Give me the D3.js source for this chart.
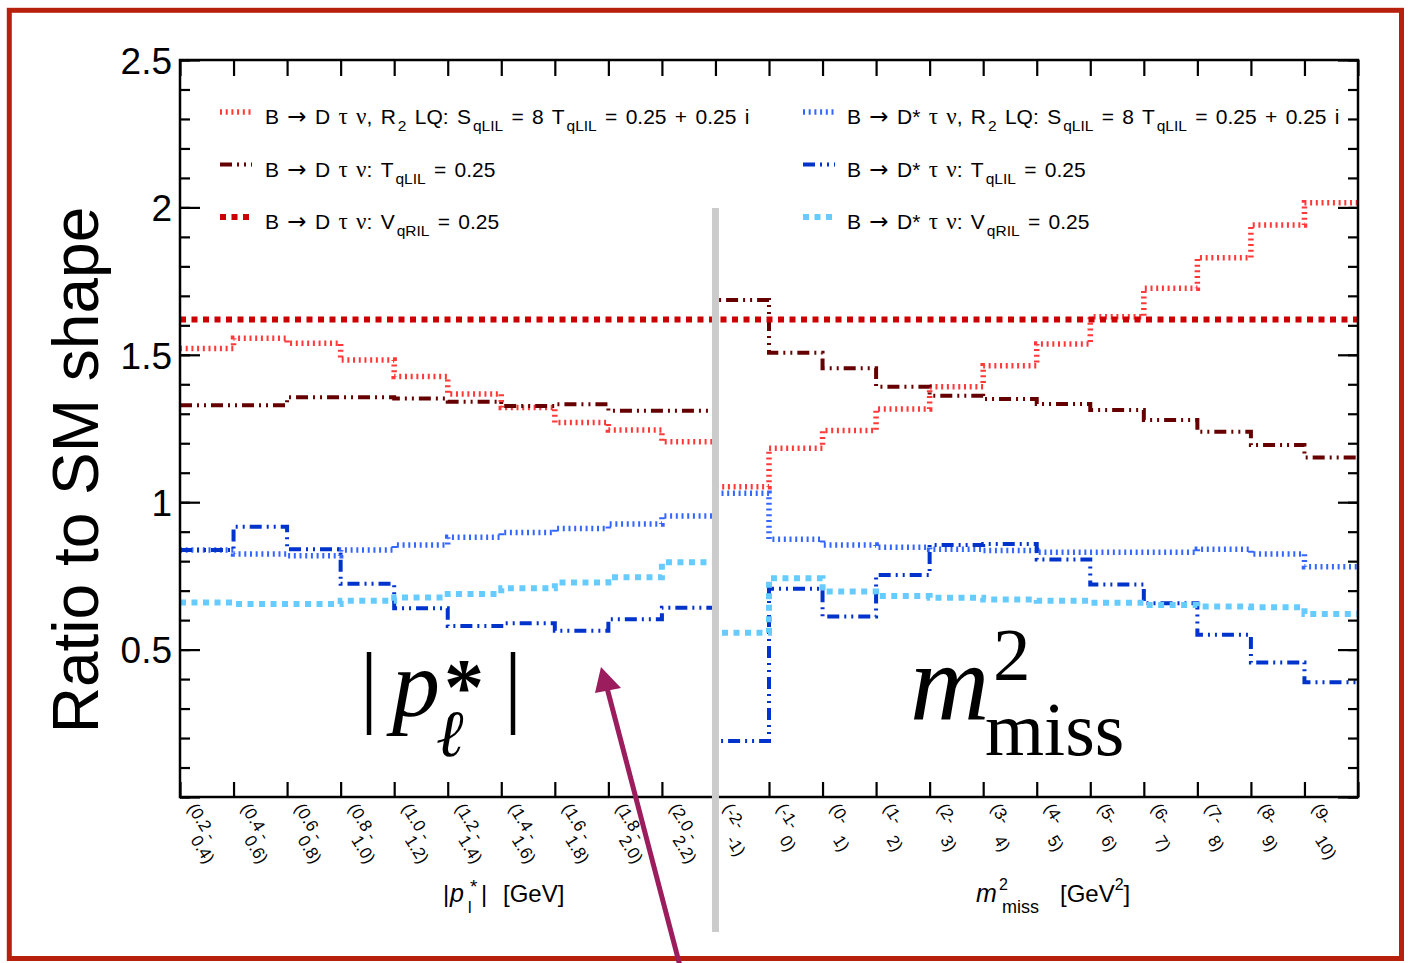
<!DOCTYPE html>
<html>
<head>
<meta charset="utf-8">
<script src="https://cdn.jsdelivr.net/npm/d3@7"></script>
<style>
  body { margin: 0; background: #fff; }
  svg { display: block; }
  text { font-family: "Liberation Sans", Arial, Helvetica, sans-serif; white-space: pre; }
  .serif { font-family: "Liberation Serif", "DejaVu Serif", "Times New Roman", serif; }
</style>
</head>
<body>
<svg id="chart" width="1408" height="963"></svg>
<script>
// Bin labels: |p*_l| bins then m^2_miss bins (two lines each)
const binLabelsTop = ["(0.2 -", "(0.4 -", "(0.6 -", "(0.8 -", "(1.0 -", "(1.2 -", "(1.4 -", "(1.6 -", "(1.8 -", "(2.0 -",
                      "(-2-", "(-1-", "(0-", "(1-", "(2-", "(3-", "(4-", "(5-", "(6-", "(7-", "(8-", "(9-"];
const binLabelsBottom = ["0.4)", "0.6)", "0.8)", "1.0)", "1.2)", "1.4)", "1.6)", "1.8)", "2.0)", "2.2)",
                         "-1)", "0)", "1)", "2)", "3)", "4)", "5)", "6)", "7)", "8)", "9)", "10)"];

// Ratio to SM shape, per bin
const dLQ  = [1.521, 1.556, 1.539, 1.482, 1.426, 1.367, 1.321, 1.270, 1.245, 1.205,
              1.052, 1.183, 1.243, 1.316, 1.392, 1.463, 1.537, 1.629, 1.726, 1.829, 1.940, 2.016];
const dT   = [1.329, 1.329, 1.356, 1.356, 1.352, 1.341, 1.326, 1.332, 1.310, 1.310,
              1.686, 1.507, 1.454, 1.392, 1.361, 1.350, 1.333, 1.313, 1.279, 1.239, 1.194, 1.152];
const dV   = [1.62, 1.62, 1.62, 1.62, 1.62, 1.62, 1.62, 1.62, 1.62, 1.62,
              1.62, 1.62, 1.62, 1.62, 1.62, 1.62, 1.62, 1.62, 1.62, 1.62, 1.62, 1.62];
const dsLQ = [0.838, 0.824, 0.818, 0.838, 0.855, 0.881, 0.897, 0.911, 0.926, 0.953,
              1.030, 0.874, 0.855, 0.847, 0.840, 0.836, 0.830, 0.830, 0.830, 0.840, 0.824, 0.781];
const dsT  = [0.838, 0.917, 0.840, 0.723, 0.640, 0.580, 0.589, 0.564, 0.603, 0.642,
              0.190, 0.706, 0.612, 0.753, 0.855, 0.858, 0.806, 0.721, 0.657, 0.550, 0.456, 0.389];
const dsV  = [0.660, 0.655, 0.655, 0.666, 0.677, 0.689, 0.708, 0.728, 0.745, 0.796,
              0.557, 0.742, 0.697, 0.682, 0.676, 0.670, 0.666, 0.659, 0.651, 0.646, 0.644, 0.621];

const legendLabels = [
  "B → D τ ν, R_{2} LQ: S_{qLIL} = 8 T_{qLIL} = 0.25 + 0.25 i",
  "B → D τ ν: T_{qLIL} = 0.25",
  "B → D τ ν: V_{qRIL} = 0.25",
  "B → D* τ ν, R_{2} LQ: S_{qLIL} = 8 T_{qLIL} = 0.25 + 0.25 i",
  "B → D* τ ν: T_{qLIL} = 0.25",
  "B → D* τ ν: V_{qRIL} = 0.25"
];

const yMajorTicks = [0, 0.5, 1, 1.5, 2, 2.5];
const yTickLabels = ["", "0.5", "1", "1.5", "2", "2.5"];

const seriesValues = [dLQ, dT, dV, dsLQ, dsT, dsV];
const seriesStyle = [
  { color: "#ff3838", width: 5.5, dash: "2,3.7" },
  { color: "#660000", width: 4, dash: "12,5,2,5,2,5" },
  { color: "#cc0000", width: 6, dash: "6,5.5" },
  { color: "#3366ff", width: 5.5, dash: "2,3.7" },
  { color: "#0033cc", width: 4, dash: "12,5,2,5,2,5" },
  { color: "#66ccff", width: 6, dash: "6,5.5" }
];

const svg = d3.select("#chart");
const L = 180, R = 1358, T = 60, B = 797;
const nBins = binLabelsTop.length;
const x = d3.scaleLinear().domain([0, nBins]).range([L, R]);
const y = d3.scaleLinear().domain([0, 2.5]).range([B, T]);

// outer red frame
svg.append("rect").attr("x", 9.3).attr("y", 10.3).attr("width", 1392.2).attr("height", 948.2)
  .attr("fill", "none").attr("stroke", "#b8200e").attr("stroke-width", 5);

// rich text with ROOT-like _{} and ^{} markup; Greek letters and arrows use symbol-like faces
function rich(sel, str, subSize, shift) {
  const re = /([_^])\{([^}]*)\}/g;
  let last = 0, m, cur = 0;
  const put = (t, off, size, dx) => {
    const parts = t.split(/([τν→])/);
    let first = true;
    parts.forEach(p => {
      if (!p) return;
      const ts = sel.append("tspan").attr("dy", off - cur).text(p);
      cur = off;
      if (first && dx) ts.attr("dx", dx);
      first = false;
      if (size) ts.attr("font-size", size);
      if (p === "→") ts.attr("font-family", "'DejaVu Sans', sans-serif").attr("font-size", 23);
      else if (p === "τ" || p === "ν") ts.attr("font-family", "'Liberation Serif', 'DejaVu Serif', serif").attr("font-size", 23);
    });
  };
  while ((m = re.exec(str)) !== null) {
    if (m.index > last) put(str.slice(last, m.index), 0, null, 0);
    put(m[2], m[1] === "_" ? shift : -shift, subSize, 2);
    last = re.lastIndex;
  }
  if (last < str.length) put(str.slice(last), 0, null, 0);
}

// histograms
const plot = svg.append("g");
const step = d3.line().x((d, i) => x(i)).y(d => y(d)).curve(d3.curveStepAfter);
seriesValues.forEach((vals, k) => {
  const st = seriesStyle[k];
  plot.append("path")
    .datum(vals.concat([vals[vals.length - 1]]))
    .attr("d", step)
    .attr("fill", "none")
    .attr("stroke", st.color)
    .attr("stroke-width", st.width)
    .attr("stroke-dasharray", st.dash);
});

// axes box and ticks
const axG = svg.append("g");
axG.append("g").attr("transform", `translate(${L},0)`)
  .call(d3.axisLeft(y).tickValues(d3.range(0, 2.51, 0.1)).tickSizeInner(-10).tickSizeOuter(0).tickFormat(""));
axG.append("g").attr("transform", `translate(${L},0)`)
  .call(d3.axisLeft(y).tickValues(yMajorTicks).tickSizeInner(-20).tickSizeOuter(0).tickPadding(8)
    .tickFormat((d, i) => yTickLabels[i]));
axG.append("g").attr("transform", `translate(${R},0)`)
  .call(d3.axisRight(y).tickValues(d3.range(0, 2.51, 0.1)).tickSizeInner(-10).tickSizeOuter(0).tickFormat(""));
axG.append("g").attr("transform", `translate(${R},0)`)
  .call(d3.axisRight(y).tickValues(yMajorTicks).tickSizeInner(-20).tickSizeOuter(0).tickFormat(""));
axG.append("g").attr("transform", `translate(0,${B})`)
  .call(d3.axisBottom(x).tickValues(d3.range(0, nBins + 1)).tickSizeInner(-15).tickSizeOuter(0).tickFormat(""));
axG.append("g").attr("transform", `translate(0,${T})`)
  .call(d3.axisTop(x).tickValues(d3.range(0, nBins + 1)).tickSizeInner(-16).tickSizeOuter(0).tickFormat(""));
axG.selectAll(".domain").remove();
axG.selectAll(".tick line").attr("stroke", "#000").attr("stroke-width", 2.2);
axG.selectAll(".tick text").attr("font-size", 37).attr("fill", "#000")
  .attr("font-family", "'Liberation Sans', Arial, sans-serif").attr("dy", "0.36em");
svg.append("rect").attr("x", L).attr("y", T).attr("width", R - L).attr("height", B - T)
  .attr("fill", "none").attr("stroke", "#000").attr("stroke-width", 2.5);

// rotated bin labels
const lab = svg.append("g").attr("font-size", 17).attr("fill", "#000");
binLabelsTop.forEach((t, i) => {
  const x0 = x(i);
  lab.append("text").attr("transform", `translate(${x0 + 7},${808}) rotate(58)`).text(t);
  lab.append("text").attr("transform", `translate(${x0 + 10},${840}) rotate(58)`).text(binLabelsBottom[i]);
});

// legend
const leg = svg.append("g");
legendLabels.forEach((lbl, k) => {
  const col = k < 3 ? 0 : 1, row = k % 3;
  const sx = col === 0 ? 220 : 803;
  const tx = col === 0 ? 265 : 847;
  const base = 124 + row * 52.5;
  const st = seriesStyle[k];
  leg.append("line").attr("x1", sx).attr("x2", sx + 32).attr("y1", base - 12).attr("y2", base - 12)
    .attr("stroke", st.color).attr("stroke-width", st.width).attr("stroke-dasharray", st.dash);
  const t = leg.append("text").attr("x", tx).attr("y", base).attr("font-size", 21)
    .attr("word-spacing", 2.5).attr("fill", "#000");
  rich(t, lbl, 15.5, 7);
});

// divider between the two variables
svg.append("line").attr("x1", x(10)).attr("x2", x(10)).attr("y1", 208).attr("y2", 932)
  .attr("stroke", "#cbcbcb").attr("stroke-width", 7);

// y axis title
svg.append("text").attr("transform", "translate(98,470) rotate(-90)").attr("text-anchor", "middle")
  .attr("font-size", 64).attr("fill", "#000").text("Ratio to SM shape");

// x axis titles
const xt = svg.append("g").attr("fill", "#000");
xt.append("text").attr("x", 443).attr("y", 902).attr("font-size", 24).text("|");
xt.append("text").attr("x", 450).attr("y", 902).attr("font-size", 25).attr("font-style", "italic").text("p");
xt.append("text").attr("x", 468).attr("y", 913).attr("font-size", 16).text("l");
xt.append("text").attr("x", 470).attr("y", 893).attr("font-size", 19).text("*");
xt.append("text").attr("x", 481).attr("y", 902).attr("font-size", 24).text("|");
xt.append("text").attr("x", 503).attr("y", 902).attr("font-size", 24).text("[GeV]");

xt.append("text").attr("x", 976).attr("y", 902).attr("font-size", 25).attr("font-style", "italic").text("m");
xt.append("text").attr("x", 999).attr("y", 890).attr("font-size", 16).text("2");
xt.append("text").attr("x", 1002).attr("y", 913).attr("font-size", 18).text("miss");
const gev2 = xt.append("text").attr("x", 1060).attr("y", 902).attr("font-size", 24);
gev2.append("tspan").text("[GeV");
gev2.append("tspan").attr("dy", -12).attr("font-size", 16).text("2");
gev2.append("tspan").attr("dy", 12).text("]");

// large variable symbols
const big = svg.append("g").attr("fill", "#000");
big.append("text").attr("class", "serif").attr("x", 360).attr("y", 716).attr("font-size", 90).text("|");
big.append("text").attr("class", "serif").attr("x", 392).attr("y", 716).attr("font-size", 96)
  .attr("font-style", "italic").text("p");
big.append("text").attr("class", "serif").attr("x", 444).attr("y", 714).attr("font-size", 80)
  .attr("font-weight", "bold").text("*");
big.append("text").attr("class", "serif").attr("x", 436).attr("y", 756).attr("font-size", 66)
  .attr("font-style", "italic").text("ℓ");
big.append("text").attr("class", "serif").attr("x", 504).attr("y", 716).attr("font-size", 90).text("|");

big.append("text").attr("class", "serif").attr("x", 910).attr("y", 720).attr("font-size", 110)
  .attr("font-style", "italic").text("m");
big.append("text").attr("class", "serif").attr("x", 993).attr("y", 680).attr("font-size", 75).text("2");
big.append("text").attr("class", "serif").attr("x", 985).attr("y", 755).attr("font-size", 76).text("miss");

// pointer arrow
const ac = "#9b1d5e";
svg.append("line").attr("x1", 680).attr("y1", 966).attr("x2", 606).attr("y2", 684)
  .attr("stroke", ac).attr("stroke-width", 5);
svg.append("polygon").attr("points", "601,667 595,693 621,688").attr("fill", ac);
</script>
</body>
</html>
